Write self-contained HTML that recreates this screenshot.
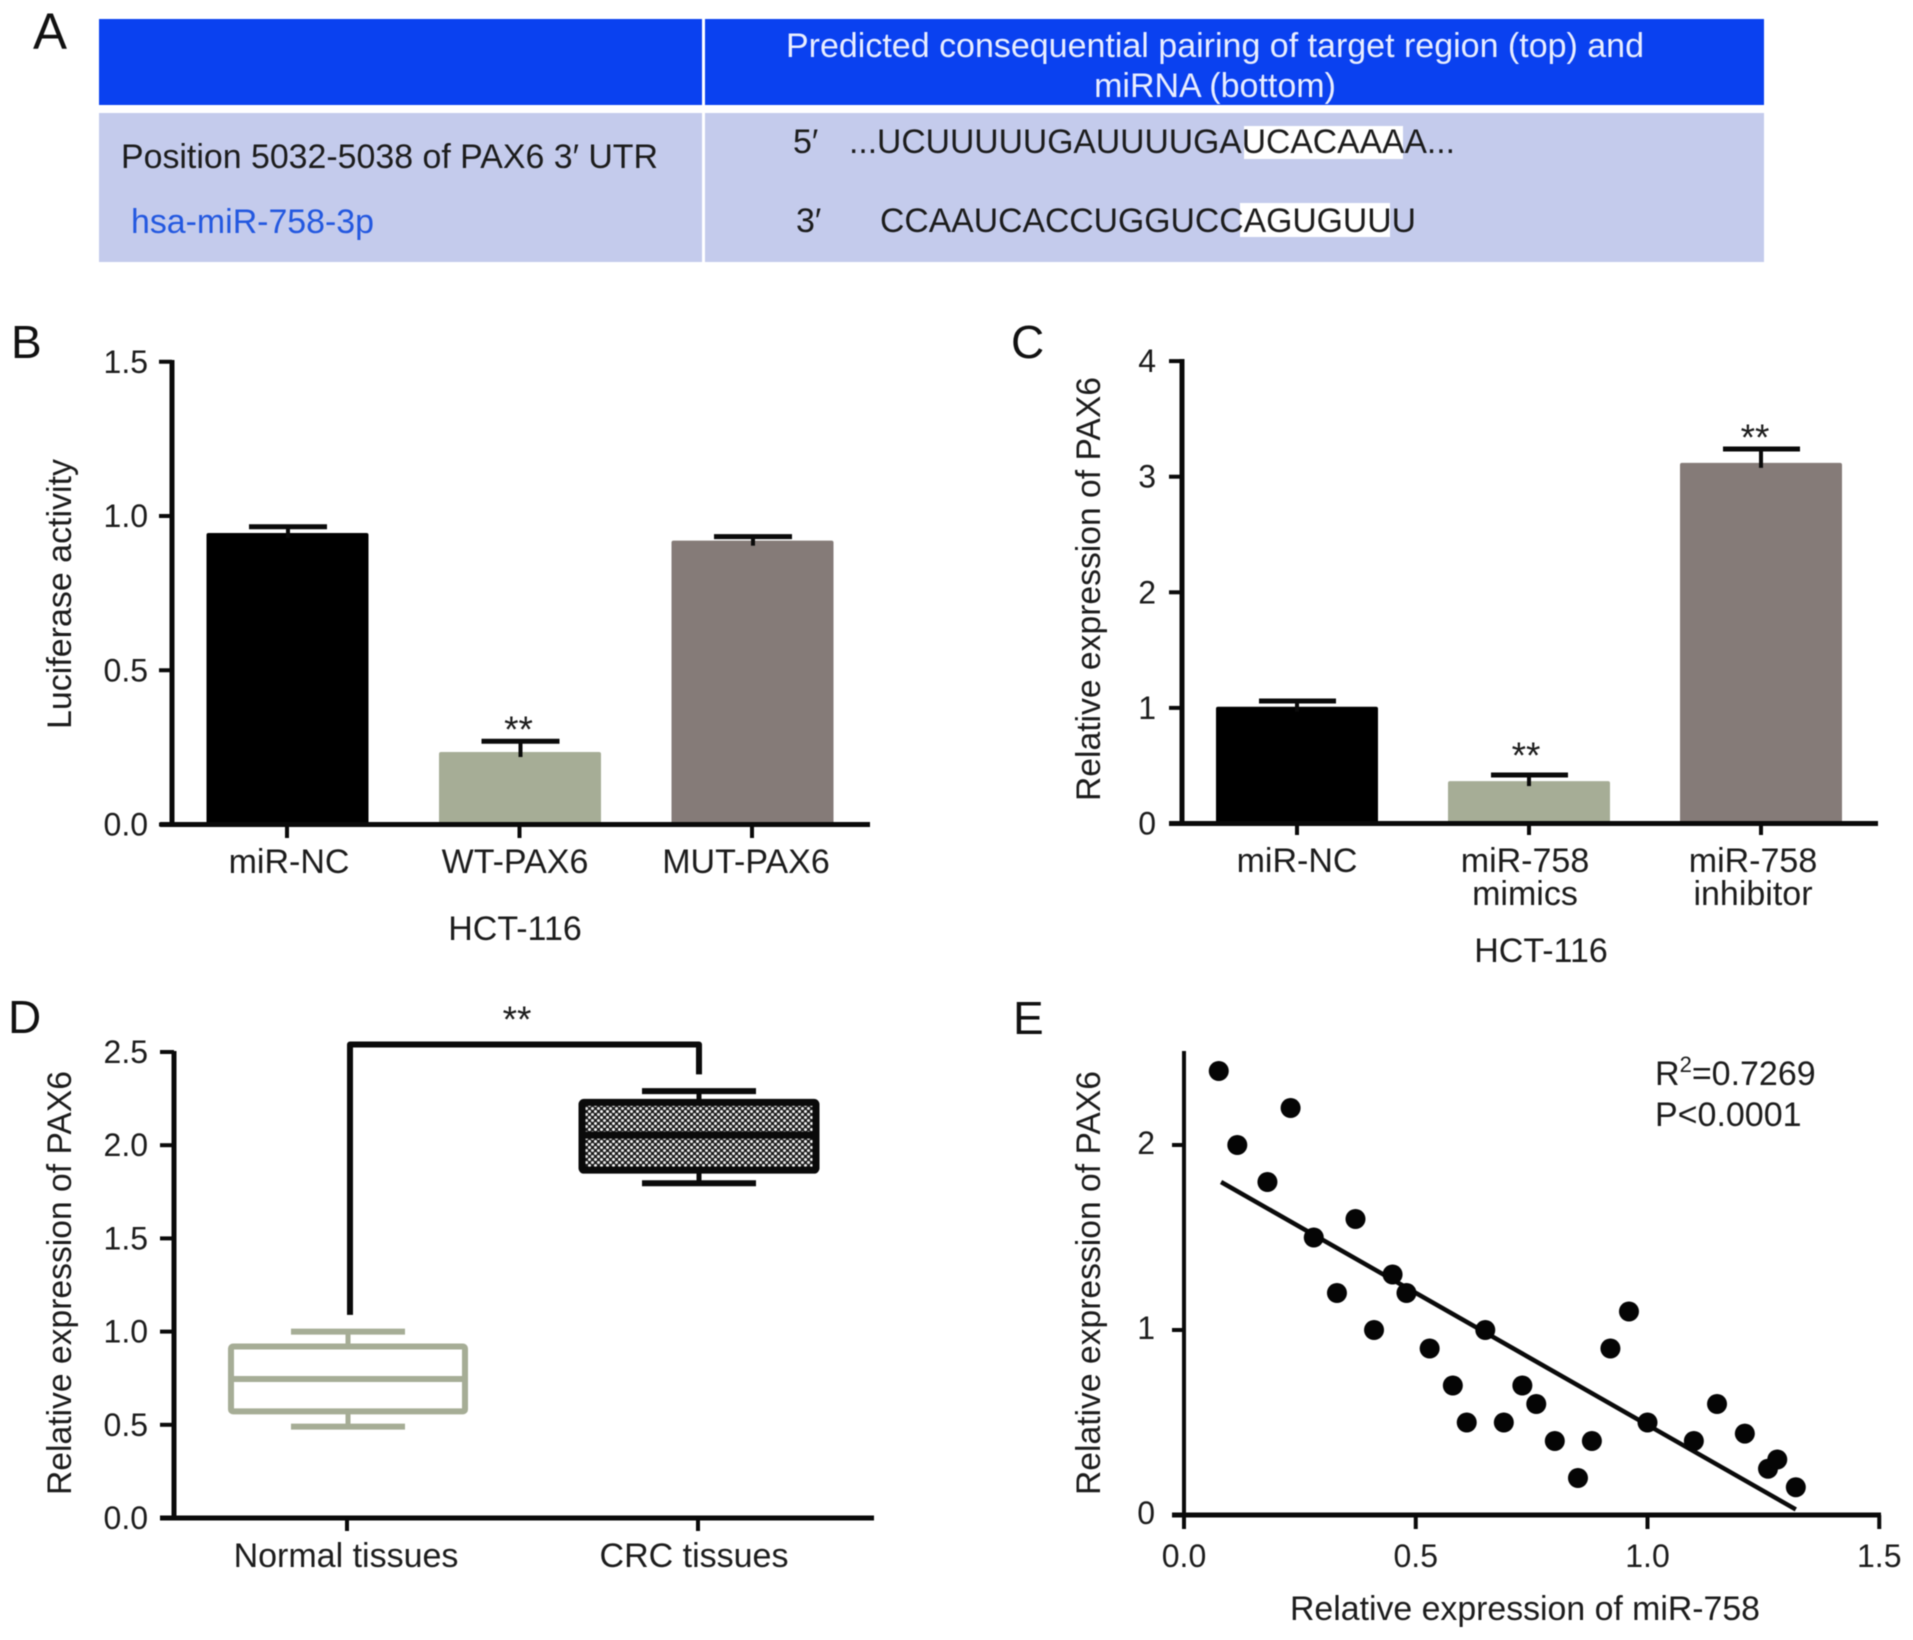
<!DOCTYPE html>
<html lang="en">
<head>
<meta charset="utf-8">
<title>PAX6 and miR-758 figure</title>
<style>
html,body{margin:0;padding:0;background:#fff;width:1913px;height:1640px;overflow:hidden}
svg{display:block;filter:blur(0.5px)}
text{font-family:"Liberation Sans",sans-serif;fill:#1c1c1c}
.tick{font-size:32px}
.cat{font-size:34px}
.letter{font-size:46px;fill:#111}
.tbl{font-size:34px}
</style>
</head>
<body>
<svg id="fig" xmlns="http://www.w3.org/2000/svg" width="1913" height="1640" viewBox="0 0 1913 1640">
  <defs>
    <pattern id="checker" width="6" height="6" patternUnits="userSpaceOnUse">
      <rect width="6" height="6" fill="#1a1a1a"/>
      <circle cx="1.5" cy="1.5" r="1.5" fill="#f4f4f4"/>
      <circle cx="4.5" cy="4.5" r="1.5" fill="#e8e8e8"/>
    </pattern>
  </defs>

  <g>
    <rect x="99" y="19" width="603" height="86" fill="#0a41f0"/>
    <rect x="705" y="19" width="1059" height="86" fill="#0a41f0"/>
    <rect x="99" y="113" width="603" height="149" fill="#c4cbec"/>
    <rect x="705" y="113" width="1059" height="149" fill="#c4cbec"/>
    <rect x="1244" y="126" width="159" height="33" fill="#fff"/>
    <rect x="1240" y="203" width="150" height="34" fill="#fff"/>
    <text class="tbl" x="786" y="57" textLength="858" lengthAdjust="spacingAndGlyphs" style="fill:#e8edff">Predicted consequential pairing of target region (top) and</text>
    <text class="tbl" x="1215" y="97" text-anchor="middle" style="fill:#e8edff">miRNA (bottom)</text>
    <text class="tbl" x="121" y="168" textLength="537" lengthAdjust="spacingAndGlyphs">Position 5032-5038 of PAX6 3′ UTR</text>
    <text class="tbl" x="131" y="233" textLength="243" lengthAdjust="spacingAndGlyphs" style="fill:#2358e0">hsa-miR-758-3p</text>
    <text class="tbl" x="793" y="153">5′</text>
    <text class="tbl" x="849" y="153" textLength="606" lengthAdjust="spacingAndGlyphs">...UCUUUUUGAUUUUGAUCACAAAA...</text>
    <text class="tbl" x="796" y="232">3′</text>
    <text class="tbl" x="880" y="232" textLength="536" lengthAdjust="spacingAndGlyphs">CCAAUCACCUGGUCCAGUGUUU</text>
  </g>

  <text class="letter" x="33" y="49" style="font-size:51px">A</text>
  <text class="letter" x="11" y="358">B</text>
  <text class="letter" x="1011" y="358">C</text>
  <text class="letter" x="8" y="1033">D</text>
  <text class="letter" x="1013" y="1034">E</text>

  <text class="cat" transform="rotate(-90 71 594)" x="71" y="594" text-anchor="middle" textLength="270" lengthAdjust="spacingAndGlyphs">Luciferase activity</text>
  <text class="cat" x="515" y="940" text-anchor="middle">HCT-116</text>
  <text class="cat" transform="rotate(-90 1100 589)" x="1100" y="589" text-anchor="middle" textLength="424" lengthAdjust="spacingAndGlyphs">Relative expression of PAX6</text>
  <text class="cat" x="1541" y="962" text-anchor="middle">HCT-116</text>
  <text class="cat" transform="rotate(-90 71 1283)" x="71" y="1283" text-anchor="middle" textLength="424" lengthAdjust="spacingAndGlyphs">Relative expression of PAX6</text>
  <text class="cat" transform="rotate(-90 1100 1283)" x="1100" y="1283" text-anchor="middle" textLength="424" lengthAdjust="spacingAndGlyphs">Relative expression of PAX6</text>
  <text class="cat" x="1525" y="1620" text-anchor="middle" textLength="470" lengthAdjust="spacingAndGlyphs">Relative expression of miR-758</text>
  <text class="cat" x="1655" y="1085">R<tspan dy="-13" font-size="22">2</tspan><tspan dy="13">=0.7269</tspan></text>
  <text class="cat" x="1655" y="1126">P&lt;0.0001</text>
</svg>

<script>
const bCategories = ['miR-NC', 'WT-PAX6', 'MUT-PAX6'];
const bMeans = [0.945, 0.235, 0.92];
const bUpper = [0.965, 0.27, 0.933];
const bStars = ['', '**', ''];
const bTicks = [0, 0.5, 1.0, 1.5];
const bTickLabels = ['0.0', '0.5', '1.0', '1.5'];

const cCategories = [['miR-NC'], ['miR-758', 'mimics'], ['miR-758', 'inhibitor']];
const cMeans = [1.01, 0.367, 3.12];
const cUpper = [1.06, 0.42, 3.24];
const cStars = ['', '**', '**'];
const cTicks = [0, 1, 2, 3, 4];
const cTickLabels = ['0', '1', '2', '3', '4'];

const dCategories = ['Normal tissues', 'CRC tissues'];
const dWhiskerLow = [0.49, 1.796];
const dBoxLow = [0.572, 1.866];
const dMedian = [0.746, 2.054];
const dBoxHigh = [0.92, 2.23];
const dWhiskerHigh = [1.0, 2.29];
const dTicks = [0, 0.5, 1.0, 1.5, 2.0, 2.5];
const dTickLabels = ['0.0', '0.5', '1.0', '1.5', '2.0', '2.5'];

const eX = [0.075, 0.115, 0.18, 0.23, 0.28, 0.33, 0.37, 0.41, 0.45, 0.48, 0.53, 0.58, 0.61, 0.65, 0.69, 0.73, 0.76, 0.80, 0.85, 0.88, 0.92, 0.96, 1.0, 1.1, 1.15, 1.21, 1.26, 1.28, 1.32];
const eY = [2.4, 2.0, 1.8, 2.2, 1.5, 1.2, 1.6, 1.0, 1.3, 1.2, 0.9, 0.7, 0.5, 1.0, 0.5, 0.7, 0.6, 0.4, 0.2, 0.4, 0.9, 1.1, 0.5, 0.4, 0.6, 0.44, 0.25, 0.3, 0.15];
const eFitX = [0.08, 1.32];
const eFitY = [1.8, 0.03];
const eXTicks = [0, 0.5, 1.0, 1.5];
const eXTickLabels = ['0.0', '0.5', '1.0', '1.5'];
const eYTicks = [0, 1, 2];
const eYTickLabels = ['0', '1', '2'];

const svg = document.getElementById('fig');
const NS = 'http://www.w3.org/2000/svg';
const INK = '#0a0a0a';
const GREEN = '#a6ad96';
const GRAY = '#857b78';
const barColors = ['#000000', GREEN, GRAY];

function mk(tag, attrs, parent) {
  const el = document.createElementNS(NS, tag);
  for (const k in attrs) el.setAttribute(k, attrs[k]);
  (parent || svg).appendChild(el);
  return el;
}
function seg(x1, y1, x2, y2, color, w, name) {
  const l = mk('line', {x1: x1, y1: y1, x2: x2, y2: y2, stroke: color, 'stroke-width': w});
  
  
  return l;
}
function label(str, x, y, anchor, name, cls) {
  const t = mk('text', {x: x, y: y, 'text-anchor': anchor, class: cls || 'tick'});
  t.textContent = str;
  
  
  return t;
}
function stars(str, x, y, name) {
  const t = mk('text', {x: x, y: y, 'text-anchor': 'middle', style: 'font-size:37px;font-weight:400'});
  t.textContent = str;
  
  
  return t;
}

/* ---------- Panel B ---------- */
const bY = v => 824.5 - v * 308.5;
const bX = i => 287 + i * 232.5;
const bBarW = 162;
bCategories.forEach((c, i) => {
  const cx = bX(i);
  const r = mk('rect', {x: cx - bBarW / 2 + 0.5, y: bY(bMeans[i]), width: bBarW, height: bY(0) - bY(bMeans[i]), rx: 2, fill: barColors[i]});
  
  
  seg(cx + 1, bY(bUpper[i]), cx + 1, bY(bMeans[i]) + 5, INK, 4, 'panel-b-error-stem');
  seg(cx - 38, bY(bUpper[i]), cx + 40, bY(bUpper[i]), INK, 5, 'panel-b-error-cap');
  if (bStars[i]) stars(bStars[i], cx - 1, bY(bUpper[i]) + 1, 'panel-b-significance');
  seg(cx, 824, cx, 838, INK, 4, 'panel-b-x-tick');
});
seg(172, 360, 172, 827, INK, 5, 'panel-b-y-axis');
seg(160, 824.5, 870, 824.5, INK, 5, 'panel-b-x-axis');
bTicks.forEach((v, i) => {
  seg(159, bY(v), 172, bY(v), INK, 4, 'panel-b-y-tick');
  label(bTickLabels[i], 148, bY(v) + 11, 'end', 'panel-b-y-tick-label');
});
const bLabelX = [289, 515, 746];
bCategories.forEach((c, i) => label(c, bLabelX[i], 873, 'middle', 'panel-b-x-tick-label', 'cat'));

/* ---------- Panel C ---------- */
const cY = v => 823.5 - v * 115.6;
const cX = i => 1297 + i * 232;
const cBarW = 162;
const cStarDx = [0, -3, -6];
const cStarDy = [0, -7, 1];
cCategories.forEach((c, i) => {
  const cx = cX(i);
  const r = mk('rect', {x: cx - cBarW / 2, y: cY(cMeans[i]), width: cBarW, height: cY(0) - cY(cMeans[i]), rx: 2, fill: barColors[i]});
  
  
  seg(cx, cY(cUpper[i]), cx, cY(cMeans[i]) + 5, INK, 4, 'panel-c-error-stem');
  seg(cx - 38, cY(cUpper[i]), cx + 39, cY(cUpper[i]), INK, 5, 'panel-c-error-cap');
  if (cStars[i]) stars(cStars[i], cx + cStarDx[i], cY(cUpper[i]) + cStarDy[i], 'panel-c-significance');
  seg(cx, 823, cx, 835, INK, 4, 'panel-c-x-tick');
});
seg(1182, 359, 1182, 826, INK, 5, 'panel-c-y-axis');
seg(1169, 823.5, 1878, 823.5, INK, 5, 'panel-c-x-axis');
cTicks.forEach((v, i) => {
  seg(1169, cY(v), 1182, cY(v), INK, 4, 'panel-c-y-tick');
  label(cTickLabels[i], 1156, cY(v) + 11, 'end', 'panel-c-y-tick-label');
});
const cLabelX = [1297, 1525, 1753];
const cLabelY = [872, 905];
cCategories.forEach((c, i) => c.forEach((line, j) => label(line, cLabelX[i], cLabelY[j], 'middle', 'panel-c-x-tick-label', 'cat')));

/* ---------- Panel D ---------- */
const dY = v => 1518 - v * 186.4;
const dX = i => 347 + i * 351;
const dBoxW = 234;
const dCapW = 114;
const dStroke = [GREEN, '#0a0a0a'];
const dFill = ['#ffffff', 'url(#checker)'];
const dWeight = [6, 7];
dCategories.forEach((c, i) => {
  const cx = dX(i) + 1;
  seg(cx, dY(dWhiskerHigh[i]), cx, dY(dBoxHigh[i]), dStroke[i], 5, 'panel-d-whisker-upper');
  seg(cx, dY(dBoxLow[i]), cx, dY(dWhiskerLow[i]), dStroke[i], 5, 'panel-d-whisker-lower');
  seg(cx - dCapW / 2, dY(dWhiskerHigh[i]), cx + dCapW / 2, dY(dWhiskerHigh[i]), dStroke[i], 6, 'panel-d-whisker-cap');
  seg(cx - dCapW / 2, dY(dWhiskerLow[i]), cx + dCapW / 2, dY(dWhiskerLow[i]), dStroke[i], 6, 'panel-d-whisker-cap');
  const b = mk('rect', {x: cx - dBoxW / 2, y: dY(dBoxHigh[i]), width: dBoxW, height: dY(dBoxLow[i]) - dY(dBoxHigh[i]), rx: 2, fill: dFill[i], stroke: dStroke[i], 'stroke-width': dWeight[i]});
  
  
  seg(cx - dBoxW / 2, dY(dMedian[i]), cx + dBoxW / 2, dY(dMedian[i]), dStroke[i], dWeight[i], 'panel-d-median');
  seg(dX(i), 1517, dX(i), 1531, INK, 4, 'panel-d-x-tick');
});
const bracket = mk('path', {
  d: 'M' + (dX(0) + 3) + ' ' + dY(1.09) + ' V' + dY(2.54) + ' H' + (dX(1) + 1) + ' V' + dY(2.38),
  fill: 'none', stroke: INK, 'stroke-width': 6, 'stroke-linejoin': 'round'
});


stars('**', 517, 1032, 'panel-d-significance');
seg(174, 1051, 174, 1520, INK, 5, 'panel-d-y-axis');
seg(160, 1518, 874, 1518, INK, 5, 'panel-d-x-axis');
dTicks.forEach((v, i) => {
  seg(160, dY(v), 174, dY(v), INK, 4, 'panel-d-y-tick');
  label(dTickLabels[i], 148, dY(v) + 11, 'end', 'panel-d-y-tick-label');
});
const dLabelX = [346, 694];
dCategories.forEach((c, i) => label(c, dLabelX[i], 1567, 'middle', 'panel-d-x-tick-label', 'cat'));

/* ---------- Panel E ---------- */
const eSX = v => 1184 + v * 463.5;
const eSY = v => 1515 - v * 185;
seg(1184, 1051, 1184, 1517, INK, 4, 'panel-e-y-axis');
seg(1172, 1515, 1881, 1515, INK, 5, 'panel-e-x-axis');
eXTicks.forEach((v, i) => {
  seg(eSX(v), 1515, eSX(v), 1529, INK, 4, 'panel-e-x-tick');
  label(eXTickLabels[i], eSX(v), 1567, 'middle', 'panel-e-x-tick-label');
});
eYTicks.forEach((v, i) => {
  seg(1172, eSY(v), 1184, eSY(v), INK, 4, 'panel-e-y-tick');
  label(eYTickLabels[i], 1155, eSY(v) + 9, 'end', 'panel-e-y-tick-label');
});
seg(eSX(eFitX[0]), eSY(eFitY[0]), eSX(eFitX[1]), eSY(eFitY[1]), INK, 4.5, 'panel-e-regression-line');
eX.forEach((x, i) => {
  const p = mk('circle', {cx: eSX(x), cy: eSY(eY[i]), r: 10, fill: '#050505'});
  
  
});
</script>
</body>
</html>
